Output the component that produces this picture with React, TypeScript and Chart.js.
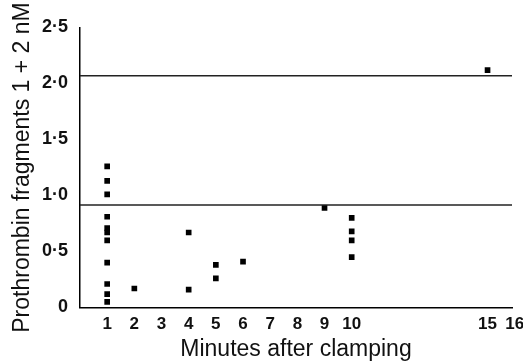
import React, { useEffect, useRef } from "react";
import { Chart, registerables } from "chart.js";

Chart.register(...registerables);

// Data
const minutes1 = [1, 1, 1, 1, 1, 1, 1, 1, 1, 1, 1];
const values1 = [1.26, 1.13, 1.01, 0.81, 0.71, 0.67, 0.6, 0.4, 0.21, 0.12, 0.05];
const minutesOther = [2, 4, 4, 5, 5, 6, 9, 10, 10, 10, 10, 15];
const valuesOther = [0.17, 0.67, 0.16, 0.38, 0.26, 0.41, 0.89, 0.8, 0.68, 0.6, 0.45, 2.12];
const upperLimit = 2.07;
const lowerLimit = 0.915;
const xTickValues = [1, 2, 3, 4, 5, 6, 7, 8, 9, 10, 15, 16];
const yTickValues = [0, 0.5, 1, 1.5, 2, 2.5];
const xMin = 0;
const xMax = 15.9;

const allX = [...minutes1, ...minutesOther];
const allY = [...values1, ...valuesOther];

export default function App() {
  const ref = useRef<HTMLCanvasElement>(null);
  useEffect(() => {
    document.body.style.margin = "0";
    const ctx = ref.current!;
    const chart = new Chart(ctx, {
      type: "scatter",
      data: {
        datasets: [
          {
            type: "line",
            data: [
              { x: xMin, y: upperLimit },
              { x: xMax, y: upperLimit },
            ],
            borderColor: "#222",
            borderWidth: 1.5,
            pointRadius: 0,
          },
          {
            type: "line",
            data: [
              { x: xMin, y: lowerLimit },
              { x: xMax, y: lowerLimit },
            ],
            borderColor: "#222",
            borderWidth: 1.5,
            pointRadius: 0,
          },
          {
            type: "scatter",
            data: allX.map((x, i) => ({ x, y: allY[i] })),
            pointStyle: "rect",
            pointRadius: 4,
            pointBorderWidth: 0,
            backgroundColor: "#000",
            borderColor: "#000",
          },
        ],
      },
      options: {
        animation: false,
        responsive: false,
        maintainAspectRatio: false,
        layout: { padding: { top: 27.5, right: 11, left: 0, bottom: 0 } },
        plugins: { legend: { display: false }, tooltip: { enabled: false } },
        scales: {
          x: {
            type: "linear",
            min: xMin,
            max: xMax,
            afterBuildTicks: (s: any) => {
              s.ticks = xTickValues.map((v) => ({ value: v }));
            },
            afterFit: (s: any) => {
              s.height = 55.5;
              s.paddingLeft = 0;
              s.paddingRight = 0;
            },
            grid: { display: false, drawTicks: false },
            border: { display: true, color: "#000", width: 1.5 },
            ticks: {
              color: "#111",
              padding: 7,
              maxRotation: 0,
              autoSkip: false,
              font: { family: "Liberation Sans", size: 17, weight: "bold" },
              callback: (v: any) => String(v),
            },
            title: {
              display: true,
              text: "Minutes after clamping",
              color: "#111",
              font: { family: "Liberation Sans", size: 23 },
              padding: { top: 0, bottom: 0 },
            },
          },
          y: {
            type: "linear",
            min: 0,
            max: 2.5,
            afterBuildTicks: (s: any) => {
              s.ticks = yTickValues.map((v) => ({ value: v }));
            },
            afterFit: (s: any) => {
              s.width = 80;
            },
            grid: { display: false, drawTicks: false },
            border: { display: true, color: "#000", width: 1.5 },
            ticks: {
              color: "#111",
              padding: 12,
              font: { family: "Liberation Sans", size: 18, weight: "bold" },
              callback: (v: any) => (v === 0 ? "0" : Number(v).toFixed(1).replace(".", "·")),
            },
            title: {
              display: true,
              text: "Prothrombin fragments 1 + 2 nM",
              color: "#111",
              font: { family: "Liberation Sans", size: 23 },
              padding: { top: 9, bottom: 0 },
            },
          },
        },
      },
    } as any);
    return () => chart.destroy();
  }, []);
  return (
    <div style={{ width: 523, height: 363 }}>
      <canvas ref={ref} width={523} height={363} style={{ display: "block" }} />
    </div>
  );
}
